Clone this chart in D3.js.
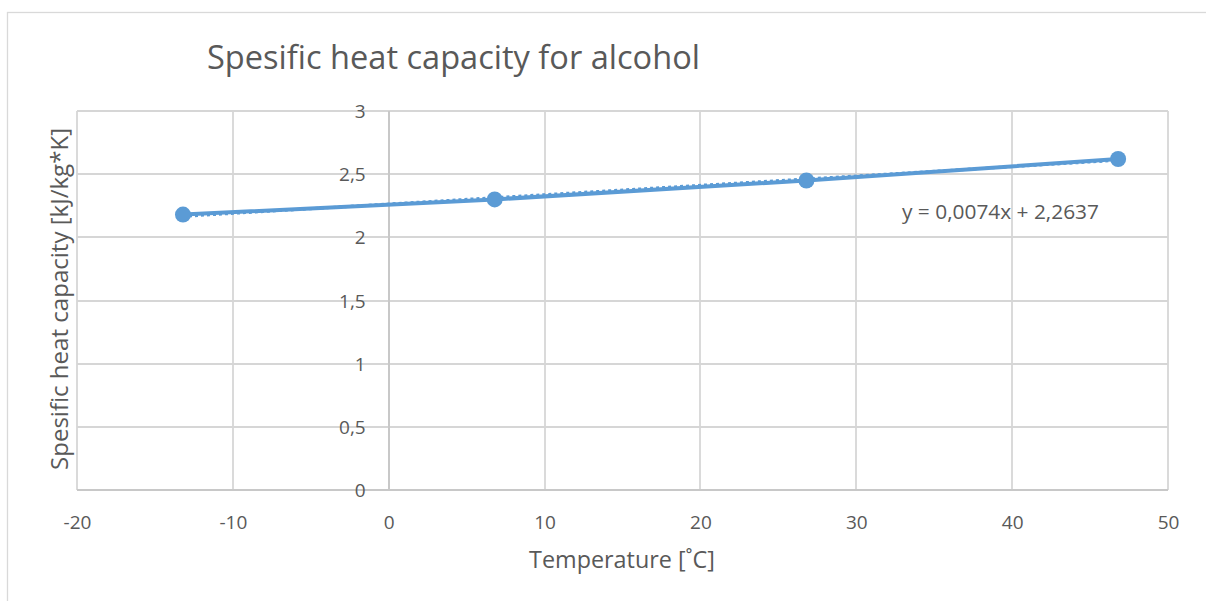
<!DOCTYPE html>
<html><head><meta charset="utf-8">
<script src="https://cdn.jsdelivr.net/npm/d3@7"></script>
<style>
html,body{margin:0;padding:0;background:#fff;}
svg{display:block;font-family:"Open Sans","Noto Sans",sans-serif;}
</style></head>
<body>
<svg id="chart" width="1206" height="601"></svg>
<script>
const temperatures = [-13.2, 6.8, 26.8, 46.8];
const heatCapacity = [2.18, 2.30, 2.45, 2.62];
const xTicks = [-20, -10, 0, 10, 20, 30, 40, 50];
const yTicks = [0, 0.5, 1, 1.5, 2, 2.5, 3];
const trendSlope = 0.0074;
const trendIntercept = 2.2637;
const titleText = "Spesific heat capacity for alcohol";
const xTitle = "Temperature [˚C]";
const yTitle = "Spesific heat capacity [kJ/kg*K]";
const equationText = "y = 0,0074x + 2,2637";

const svg = d3.select("#chart");
const plot = {left: 77, right: 1168, top: 111, bottom: 490};
const blue = "#5B9BD5";
const txt = "#595959";
const grid = "#d6d6d6";
const fmt = v => String(v).replace(".", ",");

// outer chart border
svg.append("rect").attr("x", 7.5).attr("y", 12.5).attr("width", 1220).attr("height", 620)
  .attr("fill", "#fff").attr("stroke", "#d9d9d9").attr("stroke-width", 1.3);

const x = d3.scaleLinear().domain([-20, 50]).range([plot.left, plot.right]);
const y = d3.scaleLinear().domain([0, 3]).range([plot.bottom, plot.top]);

// gridlines
const g = svg.append("g");
g.selectAll("line.h").data(yTicks).join("line")
  .attr("x1", plot.left).attr("x2", plot.right)
  .attr("y1", d => Math.round(y(d))).attr("y2", d => Math.round(y(d)))
  .attr("stroke", grid).attr("stroke-width", 1.8);
g.selectAll("line.v").data(xTicks).join("line")
  .attr("y1", plot.top).attr("y2", plot.bottom)
  .attr("x1", d => Math.round(x(d))).attr("x2", d => Math.round(x(d)))
  .attr("stroke", grid).attr("stroke-width", 1.8);

// axes lines
svg.append("line").attr("x1", plot.left).attr("x2", plot.right)
  .attr("y1", Math.round(y(0))).attr("y2", Math.round(y(0)))
  .attr("stroke", "#c8c8c8").attr("stroke-width", 2);
svg.append("line").attr("y1", plot.top).attr("y2", plot.bottom)
  .attr("x1", Math.round(x(0))).attr("x2", Math.round(x(0)))
  .attr("stroke", "#c8c8c8").attr("stroke-width", 2);

// x axis tick labels
const xAxis = d3.axisBottom(x).tickValues(xTicks).tickSize(0).tickPadding(0).tickFormat(fmt);
const xg = svg.append("g").attr("transform", `translate(0,${plot.bottom})`).call(xAxis);
xg.select(".domain").remove();
xg.selectAll("text").attr("dy", null).attr("y", 39).attr("fill", txt)
  .style("font-size", "19px").style("font-family", "'Open Sans','Noto Sans',sans-serif");

// y axis tick labels (at x = 0)
const yAxis = d3.axisLeft(y).tickValues(yTicks).tickSize(0).tickPadding(0).tickFormat(fmt);
const yg = svg.append("g").attr("transform", `translate(${x(0) - 23},0)`).call(yAxis);
yg.select(".domain").remove();
yg.selectAll("text").attr("dy", "0.35em").attr("x", 0).attr("fill", txt)
  .style("font-size", "19px").style("font-family", "'Open Sans','Noto Sans',sans-serif");

// series line
const pts = temperatures.map((t, i) => [t, heatCapacity[i]]);
const line = d3.line().x(d => x(d[0])).y(d => y(d[1]));
svg.append("path").datum(pts).attr("d", line).attr("fill", "none")
  .attr("stroke", blue).attr("stroke-width", 4).attr("stroke-linejoin", "round");

// trendline (linear fit, dotted)
const tx = d3.extent(temperatures);
const trend = tx.map(t => [t, trendSlope * t + trendIntercept]);
svg.append("path").datum(trend).attr("d", line).attr("fill", "none")
  .attr("stroke", blue).attr("stroke-width", 3).attr("stroke-dasharray", "3,3");

// markers
svg.selectAll("circle.m").data(pts).join("circle")
  .attr("cx", d => x(d[0])).attr("cy", d => y(d[1])).attr("r", 8).attr("fill", blue);

function fitText(sel, width) {
  let fs = parseFloat(sel.style("font-size"));
  const w = sel.node().getComputedTextLength();
  sel.style("font-size", (fs * width / w).toFixed(2) + "px");
}

// title
const t = svg.append("text").attr("x", 207).attr("y", 69).attr("fill", txt)
  .style("font-size", "30px").text(titleText);
fitText(t, 493);

// equation
const eq = svg.append("text").attr("x", 902).attr("y", 219).attr("fill", txt)
  .style("font-size", "18px").text(equationText);
fitText(eq, 197);

// axis titles
const xt = svg.append("text").attr("x", 622).attr("y", 568).attr("text-anchor", "middle")
  .attr("fill", txt).style("font-size", "20px").text(xTitle);
fitText(xt, 186);
const yt = svg.append("text").attr("transform", "translate(68,299) rotate(-90)")
  .attr("text-anchor", "middle").attr("fill", txt).style("font-size", "20px").text(yTitle);
fitText(yt, 342);
</script>
</body></html>
